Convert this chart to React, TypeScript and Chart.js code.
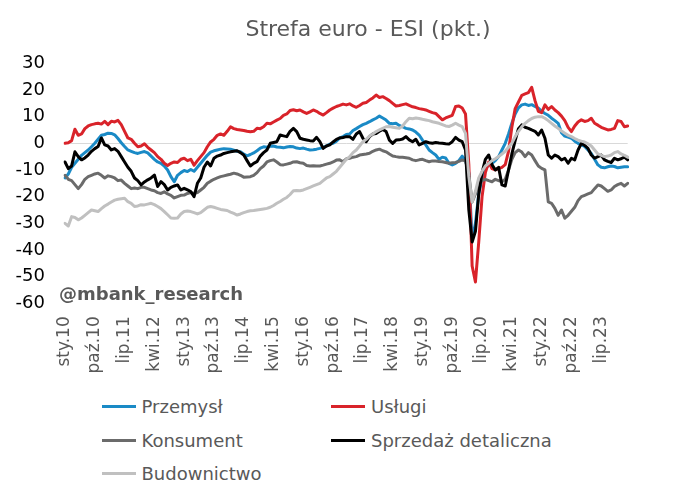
import React, { useEffect, useRef } from "react";
import { Chart, registerables } from "chart.js";

Chart.register(...registerables);

const MONTHS_PL = ["sty", "lut", "mar", "kwi", "maj", "cze", "lip", "sie", "wrz", "paź", "lis", "gru"];
const FIRST_YEAR = 2010;
const N_MONTHS = 171; // sty.10 .. mar.24
const LABEL_EVERY = 9;

const CATEGORIES: string[] = Array.from({ length: N_MONTHS }, (_, i) => {
  const y = FIRST_YEAR + Math.floor(i / 12);
  return `${MONTHS_PL[i % 12]}.${String(y % 100).padStart(2, "0")}`;
});

const SERIES_NAMES = ["Przemysł", "Usługi", "Konsument", "Sprzedaż detaliczna", "Budownictwo"];
const SERIES_COLORS = ["#1a8ac6", "#d9232a", "#6b6b6b", "#000000", "#c0c0c0"];

const PRZEMYSL = [
  -13, -11.5, -9, -7.5, -6, -4.5, -3.5, -2.5, -1.3, 0, 1.5, 3,
  3.3, 3.8, 3.7, 3.2, 1.8, 0.2, -1.2, -2.5, -3, -3.5, -3.8, -3.4,
  -3.1, -3.6, -4.8, -6, -7, -7.5, -8.5, -10, -12.5, -14.4, -12, -11,
  -10.2, -10.6, -9.8, -10.5, -9, -7.5, -6, -4.5, -3.3, -2.8, -2.5, -2.2,
  -2, -2.1, -2.2, -2.6, -3, -3.2, -4, -4.7, -4.2, -3.6, -2.8, -1.8,
  -1.3, -1.5, -1.1, -1, -1.4, -1.5, -1.7, -1.4, -1.2, -1.3, -1.8, -2,
  -1.8, -2.2, -2.5, -2.4, -2.2, -1.9, -1.5, -1, -0.3, 0, 0.8, 2,
  2.5, 3.3, 3.5, 4.8, 5.5, 6.3, 7, 7.5, 8.1, 8.8, 9.4, 10.2,
  9.5, 8.7, 7.5, 7.3, 7.5, 6.7, 6.2, 5.6, 5.4, 5, 4.2, 3.1,
  1.2, -0.6, -2.5, -3.5, -4.4, -6, -5.2, -5.5, -7.5, -8.1, -7.5, -6.5,
  -4.8, -6.5, -11, -36, -30, -19, -13, -9.5, -8.2, -7.5, -6.5, -5,
  -2.5, 0, 3.5, 7.5, 11, 13.3, 14.4, 14.7, 14.2, 14.5, 13.8, 13.2,
  12, 11.2, 10.5, 9.4, 8.5, 7.5, 4, 2.7, 2.3, 1.9, 0.8, 0,
  -0.6, -1.2, -2.5, -3.8, -6, -8.1, -9, -9.2, -8.8, -8.5, -8.7, -9.2,
  -9, -8.8, -8.8,
];

const USLUGI = [
  0, 0.2, 1, 5.3, 3, 3.5, 5.5, 6.5, 7, 7.3, 7.5, 7.2,
  8.2, 7, 8.3, 8, 8.6, 7, 4.5, 2, 1.5, 0, -1.3, -1,
  -0.2, -1.5, -2.5, -3.5, -5, -6, -7.5, -8.3, -7.5, -7, -7.2, -6,
  -5.6, -6.5, -6, -8.2, -6.5, -5, -3.5, -1.3, 0.5, 1.5, 3, 3.5,
  3, 4.5, 6.2, 5.5, 5.2, 5, 4.8, 4.5, 4.3, 4.5, 5.6, 5.5,
  6.2, 7.5, 7.3, 8, 8.7, 9.3, 10.5, 11, 12.3, 12.6, 12.2, 12.5,
  11.8, 11.2, 11.8, 12.5, 12, 11.2, 10.6, 11.5, 12.5, 13.2, 13.8, 14.2,
  14.7, 14.4, 14.8, 14, 13.5, 14.2, 15, 15.3, 16.2, 17, 18.1, 17.2,
  17.5, 16.8, 16, 15, 14, 14.2, 14.5, 14.8, 14.2, 13.7, 13.4, 13,
  12.8, 12.5, 12, 11.5, 11.2, 10, 8.8, 9.5, 10, 10.5, 13.8, 14,
  13.2, 11, -8, -46, -52, -37, -20, -11, -7, -9.5, -10, -9.5,
  -9, -8, -3, 6, 13, 15.5, 18, 18.5, 19, 21, 16, 12,
  11.5, 14.4, 12.7, 13.8, 12.5, 11.5, 10.2, 8.5, 6, 4.4, 6.5, 8,
  8.8, 8.2, 8.5, 9.4, 7.5, 6.8, 6, 5.5, 5, 5.2, 5.6, 8.5,
  8.2, 6.2, 6.5,
];

const KONSUMENT = [
  -12, -13.5, -14, -15.5, -17, -15.5, -13.5, -12.5, -12, -11.5, -11.2, -12,
  -13, -12.2, -12.5, -13, -14, -13.8, -15, -16, -17, -16.8, -17, -16.5,
  -16.5, -17, -17.5, -17.8, -18.5, -18.8, -18.2, -19, -19.5, -20.5, -20, -19.5,
  -19.4, -18.8, -18.5, -18.8, -18.5, -17.5, -16.5, -15, -14.2, -13.5, -13, -12.5,
  -12.2, -11.9, -11.6, -11.2, -11.5, -12, -12.7, -12.6, -12.5, -12, -11, -9.5,
  -8.5, -7, -6.5, -6.2, -7, -8, -8.1, -7.8, -7.5, -7, -6.9, -7.3,
  -7.5, -8.3, -8.5, -8.4, -8.5, -8.5, -8.2, -7.8, -7.5, -7, -6.3, -6.2,
  -6.9, -5.8, -5.6, -5.2, -5, -4.4, -4.2, -4, -3.75, -3, -2.5, -2.2,
  -2.8, -3.2, -4, -4.75, -5, -5.2, -5.25, -5.4, -5.6, -6.2, -6.5, -6.2,
  -6, -6.5, -6.9, -6.6, -6.6, -6.8, -6.9, -7.2, -7.5, -7.3, -7.2, -6.8,
  -6.25, -6.6, -11.6, -22, -19, -15, -14, -13.5, -14, -14.4, -13.5, -14,
  -14.4, -13.5, -10, -6, -3.5, -2.5, -3.3, -5, -3.5, -4.4, -6.5, -8.5,
  -9.4, -10, -22, -22.5, -24.4, -27, -25, -28.1, -27, -25.5, -24, -21.5,
  -20, -19.5, -19, -18.5, -17, -15.6, -16, -17, -18, -17.5, -16.2, -15.5,
  -15, -16, -15,
];

const SPRZEDAZ = [
  -7, -9.5, -8.5, -3.2, -5, -6.2, -5.5, -4.4, -3, -2, -1.2, 2,
  -0.6, -1, -2.5, -2, -3, -5, -7, -9, -10.5, -13, -14, -15.6,
  -14.5, -13.7, -13, -11.9, -16.2, -14.4, -15.5, -17.5, -16.5, -16, -15.6, -17.5,
  -16.9, -17.5, -18.1, -20, -15, -13, -9, -7, -8.5, -5.6, -4.8, -4.4,
  -3.8, -3.5, -3.2, -3, -2.8, -3.5, -4.4, -6.5, -8.5, -7.5, -6.9, -4.8,
  -3.5, -2.5, 0, 0.3, 0.6, 3.1, 2.8, 2.5, 4.5, 5.6, 4.4, 1.9,
  1.5, 1.25, 1, 0.9, 2.25, 0.6, -1.9, -1, -0.6, 0.5, 1.5, 2,
  2.2, 2.5, 2.5, 1.5, 3.5, 4.4, 1.9, 0.6, 2.5, 3.5, 3.7, 4.5,
  5.2, 4.4, 1.2, 0, 1.2, 1.3, 1.6, 2.5, 1.3, 0.6, 1.5, -0.6,
  0, 0.6, 0.2, 0, 0.3, 0.1, 0, -0.2, -0.3, 0.6, 2.2, 1.2,
  0.6, -2.5, -25, -37, -33, -19, -11, -6, -4.4, -8, -10, -9,
  -15.6, -16, -10, -4, 1, 5.5, 6.9, 6, 5.6, 5, 4.5, 3.1,
  5, 1.9, -4.4, -5.6, -4.4, -5, -6.25, -5.6, -7.5, -5.6, -6.2, -2.5,
  0, -0.8, -1.9, -4.4, -5.6, -5, -4.4, -6.2, -6.8, -7.2, -5.6, -6.2,
  -5.8, -5.2, -6.2,
];

const BUDOWNICTWO = [
  -30, -31, -27.5, -27.8, -28.7, -28, -27, -26, -25, -25.3, -25.6, -24.5,
  -23.5, -22.8, -22, -21.3, -21, -20.8, -20.6, -21.9, -22.5, -23.7, -23.5, -23,
  -23.1, -22.8, -22.5, -23, -23.7, -24.5, -25.6, -26.8, -28, -28.1, -28, -26.5,
  -25.6, -25.4, -25.6, -26, -26.5, -26, -25, -24, -23.7, -24, -24.4, -24.8,
  -25, -25.2, -25.8, -26.3, -26.9, -26.5, -26, -25.6, -25.3, -25.2, -25, -24.8,
  -24.6, -24.4, -24, -23.3, -22.5, -21.8, -21, -20.3, -19.2, -17.8, -17.7, -17.8,
  -17.5, -17, -16.5, -16, -15.5, -15, -14, -13, -12.5, -11.5, -10.5, -9,
  -7.5, -6, -5, -3.5, -2.5, -1, 0.6, 1.5, 2.7, 3.5, 4.4, 5,
  5.6, 6.2, 6.3, 6, 5.8, 5.6, 6.5, 8.1, 9.4, 9.2, 9.5, 9.3,
  9, 8.75, 8.5, 8.1, 7.8, 7.5, 7, 6.5, 6.3, 6.8, 7.5, 6.8,
  6.25, 3.75, -12.5, -22, -18, -13, -10.5, -8.5, -7.5, -6.5, -5.8, -5,
  -4, -3, -1.5, 0, 2.5, 4.5, 6.2, 7.5, 8.5, 9.3, 9.8, 10,
  10, 9.4, 8.5, 7.5, 6.5, 5.6, 4.6, 3.8, 3, 2.5, 1.8, 1.2,
  0.8, 0.5, -0.2, -1, -2.5, -4, -4.5, -5, -4.8, -4.4, -3.5, -3.1,
  -4, -4.5, -5.2,
];

const SERIES_VALUES = [PRZEMYSL, USLUGI, KONSUMENT, SPRZEDAZ, BUDOWNICTWO];
// drawing order: Budownictwo on top
const SERIES_ORDER = [4, 3, 2, 1, 0];

const Y_MIN = -60;
const Y_MAX = 30;
const Y_STEP = 10;

const TITLE = "Strefa euro - ESI (pkt.)";
const WATERMARK = "@mbank_research";

const W = 673;
const CANVAS_H = 390;
const FONT = "'DejaVu Sans', Verdana, sans-serif";

const LEGEND_ITEMS = [
  { s: 0, x: 101.5, y: 406.7 },
  { s: 1, x: 331, y: 406.7 },
  { s: 2, x: 101.5, y: 440.7 },
  { s: 3, x: 331, y: 440.7 },
  { s: 4, x: 101.5, y: 473.5 },
];

export default function App() {
  const ref = useRef<HTMLCanvasElement | null>(null);

  useEffect(() => {
    const canvas = ref.current;
    if (!canvas) return;
    const chart = new Chart(canvas, {
      type: "line",
      data: {
        labels: CATEGORIES,
        datasets: SERIES_NAMES.map((name, k) => ({
          label: name,
          data: SERIES_VALUES[k],
          borderColor: SERIES_COLORS[k],
          backgroundColor: SERIES_COLORS[k],
          borderWidth: 3,
          pointRadius: 0,
          tension: 0,
          fill: false,
          order: SERIES_ORDER[k],
        })),
      },
      options: {
        animation: false,
        responsive: false,
        devicePixelRatio: 1,
        layout: { padding: { left: 0, right: 45.3, top: 63.3, bottom: 0 } },
        plugins: {
          legend: { display: false },
          tooltip: { enabled: false },
          title: { display: false },
        },
        elements: {
          line: { borderJoinStyle: "round", borderCapStyle: "round" },
        },
        scales: {
          x: {
            type: "category",
            offset: false,
            grid: { display: false, drawTicks: false },
            border: { display: false },
            ticks: {
              autoSkip: false,
              maxRotation: 90,
              minRotation: 90,
              padding: 13,
              color: "#595959",
              font: { family: FONT, size: 17 },
              callback: (_v: any, i: number) => (i % LABEL_EVERY === 0 ? CATEGORIES[i] : ""),
            },
            afterFit: (s: any) => {
              s.height = CANVAS_H - 303.3;
            },
          },
          y: {
            min: Y_MIN,
            max: Y_MAX,
            grid: {
              drawTicks: false,
              lineWidth: 1,
              color: (c: any) => (c.tick && c.tick.value === 0 ? "#d9d9d9" : "rgba(0,0,0,0)"),
            },
            border: { display: false },
            ticks: {
              stepSize: Y_STEP,
              padding: 20,
              color: "#000000",
              font: { family: FONT, size: 18 },
            },
            afterFit: (s: any) => {
              s.width = 65;
            },
          },
        },
      },
    });
    return () => chart.destroy();
  }, []);

  return (
    <div
      style={{
        position: "fixed",
        left: 0,
        top: 0,
        width: W,
        height: 490,
        background: "#ffffff",
        overflow: "hidden",
        fontFamily: FONT,
      }}
    >
      <canvas
        ref={ref}
        width={W}
        height={CANVAS_H}
        style={{ position: "absolute", left: 0, top: 0, width: W, height: CANVAS_H }}
      />
      <div
        style={{
          position: "absolute",
          left: 368,
          top: 16,
          transform: "translateX(-50%)",
          whiteSpace: "nowrap",
          fontSize: 22,
          lineHeight: "26px",
          color: "#595959",
        }}
      >
        {TITLE}
      </div>
      <div
        style={{
          position: "absolute",
          left: 59,
          top: 283,
          whiteSpace: "nowrap",
          fontSize: 18,
          lineHeight: "22px",
          fontWeight: "bold",
          color: "#595959",
        }}
      >
        {WATERMARK}
      </div>
      {LEGEND_ITEMS.map((it) => (
        <React.Fragment key={it.s}>
          <div
            style={{
              position: "absolute",
              left: it.x,
              top: it.y - 1.5,
              width: 34,
              height: 3,
              background: SERIES_COLORS[it.s],
            }}
          />
          <div
            style={{
              position: "absolute",
              left: it.x + 40,
              top: it.y - 10,
              whiteSpace: "nowrap",
              fontSize: 18,
              lineHeight: "20px",
              color: "#595959",
            }}
          >
            {SERIES_NAMES[it.s]}
          </div>
        </React.Fragment>
      ))}
    </div>
  );
}
